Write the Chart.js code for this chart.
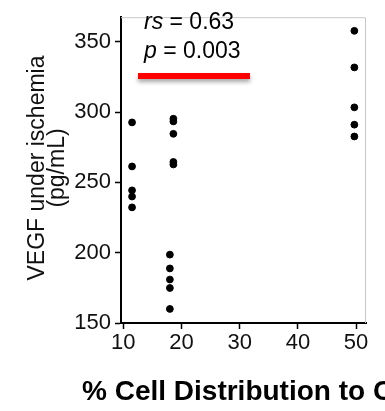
<!DOCTYPE html>
<html lang="en">
<head>
    <meta charset="UTF-8">
    <title>VEGF vs % Cell Distribution</title>
    <script src="https://cdn.jsdelivr.net/npm/chart.js"></script>
    <style>
        html, body { margin: 0; padding: 0; background: #fff; }
        .chart-box { width: 385px; height: 411px; position: relative; }
    </style>
</head>
<body>
<div class="chart-box">
    <canvas id="vegfChart"></canvas>
</div>
<script>
    // data
    const distribution = [11.5, 11.5, 11.5, 11.5, 11.5,
                          18.6, 18.6, 18.6, 18.6, 18.6,
                          18.0, 18.0, 18.0, 18.0, 18.0,
                          49.7, 49.7, 49.7, 49.7, 49.7];
    const vegf = [292.6, 261.3, 244.3, 239.9, 232.2,
                  295.2, 293.3, 284.5, 264.5, 262.7,
                  198.6, 188.8, 180.9, 174.9, 160.0,
                  357.7, 331.7, 303.3, 291.0, 282.6];
    const xTicks = [10, 20, 30, 40, 50];
    const yTicks = [150, 200, 250, 300, 350];
    const yTitle = ['VEGF under ischemia', '(pg/mL)'];
    const xTitle = '% Cell Distribution to C';
    const statLabels = [['rs', ' = 0.63'], ['p', ' = 0.003']];

    const FONT = '"Liberation Sans", Arial, Helvetica, sans-serif';

    // frame, labels and the red bar drawn by hand
    const extras = {
        id: 'extras',
        afterDraw(chart) {
            const ctx = chart.ctx;
            const a = chart.chartArea;
            ctx.save();
            // light top / right frame
            ctx.strokeStyle = '#c8c8c8';
            ctx.lineWidth = 1;
            ctx.beginPath();
            ctx.moveTo(a.left, a.top + 0.5);
            ctx.lineTo(a.right - 0.5, a.top + 0.5);
            ctx.lineTo(a.right - 0.5, a.bottom);
            ctx.stroke();

            // y title, two lines
            ctx.fillStyle = '#111';
            ctx.font = '23px ' + FONT;
            ctx.textAlign = 'center';
            ctx.textBaseline = 'middle';
            ctx.translate(0, 168);
            ctx.rotate(-Math.PI / 2);
            ctx.fillText(yTitle[0], 0, 38);
            ctx.fillText(yTitle[1], 0, 58);
            ctx.setTransform(1, 0, 0, 1, 0, 0);

            // x title (bold, runs off the edge)
            ctx.font = 'bold 28px ' + FONT;
            ctx.textAlign = 'left';
            ctx.textBaseline = 'alphabetic';
            ctx.fillStyle = '#000';
            ctx.fillText(xTitle, 82, 400);

            // stats text
            let base = 29;
            statLabels.forEach(function (s) {
                ctx.font = 'italic 23px ' + FONT;
                ctx.fillText(s[0], 144, base);
                const w = ctx.measureText(s[0]).width;
                ctx.font = '23px ' + FONT;
                ctx.fillText(s[1], 144 + w, base);
                base += 29;
            });

            // red bar with soft shadow
            ctx.shadowColor = 'rgba(0,0,0,0.35)';
            ctx.shadowBlur = 4;
            ctx.shadowOffsetY = 3;
            ctx.fillStyle = '#ff0000';
            ctx.fillRect(138, 73, 112, 6);
            ctx.restore();
        }
    };

    const ctxVegf = document.getElementById('vegfChart').getContext('2d');
    const vegfChart = new Chart(ctxVegf, {
        type: 'scatter',
        data: {
            datasets: [{
                data: distribution.map((x, i) => ({ x: x, y: vegf[i] })),
                backgroundColor: '#000',
                borderColor: '#000',
                pointRadius: 3.4,
                pointHoverRadius: 3.4
            }]
        },
        options: {
            responsive: true,
            maintainAspectRatio: false,
            animation: false,
            events: [],
            layout: { padding: { top: 11, right: 19, left: 0, bottom: 0 } },
            plugins: {
                legend: { display: false },
                tooltip: { enabled: false }
            },
            scales: {
                x: {
                    type: 'linear',
                    min: 9.6,
                    max: 51.7,
                    afterBuildTicks: s => { s.ticks = xTicks.map(v => ({ value: v })); },
                    afterFit: s => { s.height = 88; },
                    border: { display: true, color: '#000', width: 2 },
                    grid: { display: true, drawOnChartArea: false, drawTicks: true, tickLength: 6, color: '#000', tickWidth: 1.5 },
                    ticks: { color: '#111', font: { family: FONT, size: 22 }, padding: 1, maxRotation: 0 }
                },
                y: {
                    type: 'linear',
                    min: 150,
                    max: 367.4,
                    afterBuildTicks: s => { s.ticks = yTicks.map(v => ({ value: v })); },
                    afterFit: s => { s.width = 121; },
                    border: { display: true, color: '#000', width: 2 },
                    grid: { display: true, drawOnChartArea: false, drawTicks: true, tickLength: 6, color: '#000', tickWidth: 1.5 },
                    ticks: { color: '#111', font: { family: FONT, size: 22 }, padding: 4 }
                }
            }
        },
        plugins: [extras]
    });
</script>
</body>
</html>
